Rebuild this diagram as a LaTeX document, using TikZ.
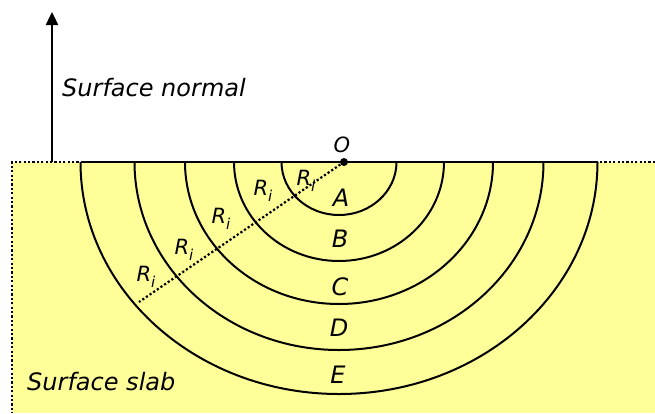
\documentclass[tikz,border=0pt]{standalone}
\usepackage{fontspec}
\setmainfont{DejaVu Sans}
\usetikzlibrary{arrows.meta}
\definecolor{slab}{HTML}{FFFF99}
\newcommand{\Rsub}{R\raisebox{-0.28em}{\fontsize{15}{15}\selectfont\itshape i}}
\begin{document}
\begin{tikzpicture}[x=1pt,y=-1pt,
  lbl/.style={font=\itshape\fontsize{24}{26}\selectfont, inner sep=0pt},
  rlbl/.style={font=\itshape\fontsize{21}{23}\selectfont, inner sep=0pt},
  ring/.style={line width=2pt},
  dotline/.style={line width=2.2pt, dash pattern=on 2.2pt off 2.2pt}]
\useasboundingbox (0,0) rectangle (655,413);
% slab
\fill[slab] (12,162) rectangle (655,413);
\draw[dotline] (655,162) -- (12,162) -- (12,413);
% rings
\foreach \a/\b in {57.5/53,105/99,154/142,204.5/188,258.5/232}{
  \draw[ring] (339-\a,162) arc[start angle=180,end angle=0,x radius=\a,y radius=\b];
}
% surface line
\coordinate (sl) at (81,162);
\coordinate (sr) at (598,162);
\draw[line width=2.6pt] (sl) -- (sr);
% normal arrow
\coordinate (nb) at (52,162);
\coordinate (nt) at (52,12);
\draw[line width=2.4pt,-{Triangle[length=13pt,width=12pt]}] (nb) -- (nt);
\node[lbl,anchor=west] (sn) at (62,88) {Surface normal};
\node[lbl,anchor=west] (ss) at (27,382) {Surface slab};
% origin
\node[circle,fill=black,inner sep=0pt,minimum size=8pt] (O) at (344,162) {};
\node[rlbl] (Ol) at (342,145) {O};
\coordinate (re) at (139,302);
\draw[line width=2.2pt, dash pattern=on 2.2pt off 2.2pt] (O.center) -- (re);
% region letters
\node[lbl] (A) at (341,198) {A};
\node[lbl] (B) at (340,239) {B};
\node[lbl] (C) at (340,287) {C};
\node[lbl] (D) at (339,328) {D};
\node[lbl] (E) at (338,375) {E};
% radius labels
\node[rlbl] (r1) at (306,181) {\Rsub};
\node[rlbl] (r2) at (263,191) {\Rsub};
\node[rlbl] (r3) at (221,219) {\Rsub};
\node[rlbl] (r4) at (184,250) {\Rsub};
\node[rlbl] (r5) at (146,277) {\Rsub};
\end{tikzpicture}
\end{document}
